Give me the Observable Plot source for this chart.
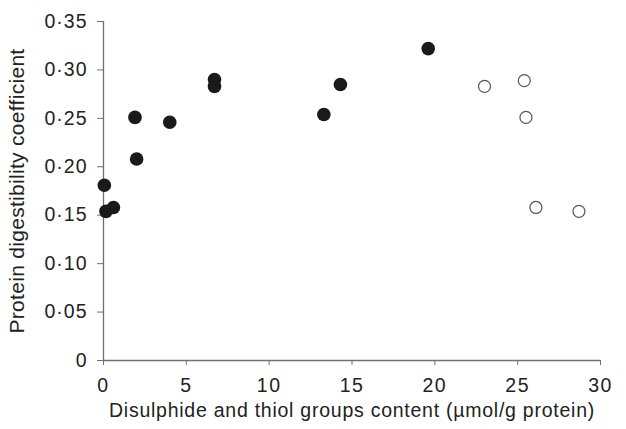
<!DOCTYPE html>
<html>
<head>
<meta charset="utf-8">
<script src="https://cdn.jsdelivr.net/npm/d3@7"></script>
<script src="https://cdn.jsdelivr.net/npm/@observablehq/plot@0.6"></script>
<style>
  html, body { margin: 0; padding: 0; background: #ffffff; }
  #chart svg { display: block; }
</style>
</head>
<body>
<div id="chart"></div>
<script>
// Filled circles
const filledX = [0.05, 0.15, 0.6, 1.9, 2.0, 4.0, 6.7, 6.7, 13.3, 14.3, 19.6];
const filledY = [0.181, 0.154, 0.158, 0.251, 0.208, 0.246, 0.290, 0.283, 0.254, 0.285, 0.322];
// Open circles
const openX = [23.0, 25.4, 25.5, 26.1, 28.7];
const openY = [0.283, 0.289, 0.251, 0.158, 0.154];
// Ticks
const xTicks = [0, 5, 10, 15, 20, 25, 30];
const yTicks = [0, 0.05, 0.10, 0.15, 0.20, 0.25, 0.30, 0.35];
const xLabel = "Disulphide and thiol groups content (µmol/g protein)";
const yLabel = "Protein digestibility coefficient";

const filled = filledX.map((x, i) => ({x, y: filledY[i]}));
const open = openX.map((x, i) => ({x, y: openY[i]}));
const fmtY = d => d === 0 ? "0" : d.toFixed(2).replace(".", "·");

const axisColor = "#707070";
const fs = 19.5;
const chart = Plot.plot({
  width: 626,
  height: 429,
  marginLeft: 103,
  marginRight: 26,
  marginTop: 21,
  marginBottom: 69,
  style: {fontFamily: "'Liberation Sans', Arial, sans-serif", fontSize: "19.5px", color: "#222", background: "#ffffff", overflow: "visible"},
  x: {domain: [0, 30]},
  y: {domain: [0, 0.35]},
  marks: [
    Plot.ruleX([0], {stroke: axisColor, strokeWidth: 1.3}),
    Plot.ruleY([0], {stroke: axisColor, strokeWidth: 1.3}),
    Plot.axisX({ticks: xTicks, tickSize: 5, tickPadding: 13, stroke: axisColor, tickFormat: d => String(d),
      fontSize: fs, label: null, fill: "#222"}),
    Plot.axisX({ticks: [], label: xLabel, labelAnchor: "center", labelArrow: "none", labelOffset: 56, fontSize: fs, fill: "#222", tickSize: 0, dx: 2}),
    Plot.axisY({ticks: yTicks, tickSize: 6, tickPadding: 10, stroke: axisColor, tickFormat: fmtY,
      fontSize: fs, label: null, fill: "#222"}),
    Plot.axisY({ticks: [], label: yLabel, labelAnchor: "center", labelArrow: "none", labelOffset: 94, fontSize: 21, fill: "#222", tickSize: 0, dy: 4}),
    Plot.dot(open, {x: "x", y: "y", r: 6, fill: "white", stroke: "#555", strokeWidth: 1.2}),
    Plot.dot(filled, {x: "x", y: "y", r: 6.8, fill: "#1a1a1a", stroke: "none"})
  ]
});
const svg = d3.select(chart);
svg.selectAll('g[aria-label="x-axis label"] text').style("letter-spacing", "0.75px");
svg.selectAll('g[aria-label="y-axis label"] text').style("letter-spacing", "0.3px");
svg.selectAll('g[aria-label="y-axis tick label"] text').style("letter-spacing", "1px");
svg.selectAll('g[aria-label="x-axis tick label"] text').style("letter-spacing", "1.5px");
document.getElementById("chart").appendChild(chart);
</script>
</body>
</html>
